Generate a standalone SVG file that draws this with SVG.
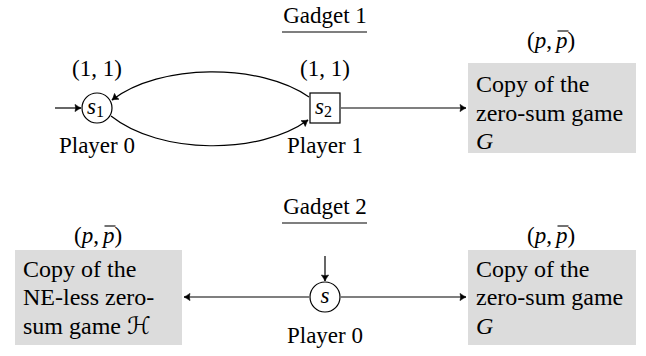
<svg xmlns="http://www.w3.org/2000/svg" width="646" height="356" viewBox="0 0 646 356">
<style>
text{font-family:"Liberation Serif","DejaVu Serif",serif;font-size:23px;fill:#000}
.m{text-anchor:middle}
.i{font-style:italic}
.sub{font-size:16px;font-style:normal}
.bt{font-size:24px}
.edge{fill:none;stroke:#000;stroke-width:1.2}
.node{fill:#fff;stroke:#000;stroke-width:1.2}
.box{fill:#dcdcdc;stroke:none}
.ol{stroke:#000;stroke-width:1.1}
</style>
<defs>
<marker id="ah" viewBox="-8 -5 10 10" refX="0" refY="0" markerWidth="10" markerHeight="10" markerUnits="userSpaceOnUse" orient="auto">
<path d="M-6,-3.6 Q-2,-0.8 0,0 Q-2,0.8 -6,3.6 Q-4.5,0 -6,-3.6 Z" fill="#000" stroke="#000" stroke-width="0.6" stroke-linejoin="round"/>
</marker>
</defs>
<g id="title1">
<text class="m" x="325" y="23">Gadget 1</text>
<line x1="282" y1="32" x2="367" y2="32" stroke="#000" stroke-width="1.2"/>
</g>
<g id="title2">
<text class="m" x="325" y="214">Gadget 2</text>
<line x1="282" y1="223" x2="367" y2="223" stroke="#000" stroke-width="1.2"/>
</g>
<g id="connectors">
<line class="edge" x1="55" y1="108" x2="81" y2="108" marker-end="url(#ah)"/>
<path class="edge" d="M309,97 C260,63 160,63 112,100" marker-end="url(#ah)"/>
<path class="edge" d="M111,116 C160,155 260,155 308,120" marker-end="url(#ah)"/>
<line class="edge" x1="341" y1="108" x2="466" y2="108" marker-end="url(#ah)"/>
<line class="edge" x1="325" y1="256" x2="325" y2="281" marker-end="url(#ah)"/>
<line class="edge" x1="309" y1="297" x2="184" y2="297" marker-end="url(#ah)"/>
<line class="edge" x1="341" y1="297" x2="466" y2="297" marker-end="url(#ah)"/>
</g>
<g id="s1">
<circle class="node" cx="97" cy="108" r="15"/>
<text x="87" y="114" class="i">s<tspan class="sub" dy="3">1</tspan></text>
<text class="m" x="97" y="76">(1, 1)</text>
<text class="m" x="97" y="153">Player 0</text>
</g>
<g id="s2">
<rect class="node" x="310" y="93" width="30" height="30"/>
<text x="315" y="114" class="i">s<tspan class="sub" dy="3">2</tspan></text>
<text class="m" x="325" y="76">(1, 1)</text>
<text class="m" x="325" y="153">Player 1</text>
</g>
<g id="gameG1">
<rect class="box" x="468" y="63" width="168" height="90"/>
<text class="bt" x="476" y="92">Copy of the</text>
<text class="bt" x="476" y="121">zero-sum game</text>
<text class="bt i" x="476" y="149">G</text>
<text y="48"><tspan x="527">(</tspan><tspan class="i" x="534.7">p</tspan><tspan x="546.2">,</tspan><tspan class="i" x="556">p</tspan><tspan x="567.5">)</tspan></text>
<line class="ol" x1="557.5" y1="31" x2="568.5" y2="31"/>
</g>
<g id="s">
<circle class="node" cx="325" cy="297" r="15"/>
<text class="m i" x="325" y="303">s</text>
<text class="m" x="325" y="343">Player 0</text>
</g>
<g id="gameH">
<rect class="box" x="15" y="250" width="167" height="95"/>
<text class="bt" x="23" y="277">Copy of the</text>
<text class="bt" x="23" y="305">NE-less zero-</text>
<text class="bt" x="23" y="334">sum game <tspan font-family="DejaVu Sans">ℋ</tspan></text>
<text y="243"><tspan x="74">(</tspan><tspan class="i" x="81.7">p</tspan><tspan x="93.2">,</tspan><tspan class="i" x="103">p</tspan><tspan x="114.5">)</tspan></text>
<line class="ol" x1="104.5" y1="226" x2="115.5" y2="226"/>
</g>
<g id="gameG2">
<rect class="box" x="468" y="250" width="168" height="95"/>
<text class="bt" x="476" y="277">Copy of the</text>
<text class="bt" x="476" y="305">zero-sum game</text>
<text class="bt i" x="476" y="334">G</text>
<text y="243"><tspan x="527">(</tspan><tspan class="i" x="534.7">p</tspan><tspan x="546.2">,</tspan><tspan class="i" x="556">p</tspan><tspan x="567.5">)</tspan></text>
<line class="ol" x1="557.5" y1="226" x2="568.5" y2="226"/>
</g>
</svg>
